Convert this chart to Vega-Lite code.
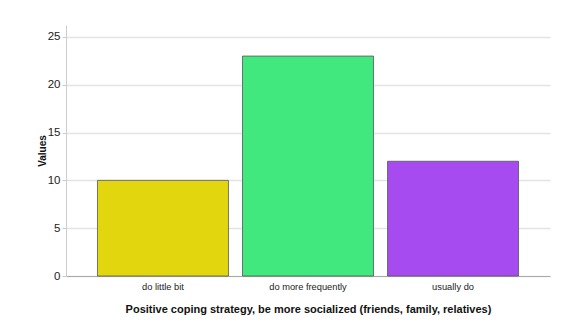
{
  "$schema": "https://vega.github.io/schema/vega-lite/v6.json",
  "autosize": "none",
  "width": 484,
  "height": 251,
  "padding": {"left": 66, "top": 25, "right": 20, "bottom": 59},
  "background": "white",
  "data": {"values": [
    {"category": "do little bit", "value": 10},
    {"category": "do more frequently", "value": 23},
    {"category": "usually do", "value": 12}
  ]},
  "mark": {"type": "bar", "stroke": "#555555", "strokeWidth": 0.8},
  "encoding": {
    "x": {
      "field": "category", "type": "nominal", "sort": null,
      "scale": {"paddingInner": 0.097, "paddingOuter": 0.217},
      "axis": {
        "title": "Positive coping strategy, be more socialized (friends, family, relatives)",
        "titleFont": "Liberation Sans", "titleFontSize": 11, "titleFontWeight": "bold", "titleColor": "#111111",
        "titlePadding": 12,
        "labelAngle": 0, "labelFont": "Liberation Sans", "labelFontSize": 9.3, "labelColor": "#222222",
        "labelPadding": 6,
        "ticks": false, "domainColor": "#aaaaaa", "grid": false
      }
    },
    "y": {
      "field": "value", "type": "quantitative",
      "scale": {"domain": [0, 26.25], "nice": false},
      "axis": {
        "title": "Values", "titleFont": "Liberation Sans", "titleFontSize": 10, "titleFontWeight": "bold", "titleColor": "#111111",
        "titlePadding": 0,
        "values": [0, 5, 10, 15, 20, 25],
        "labelFont": "Liberation Sans", "labelFontSize": 11.5, "labelColor": "#222222",
        "tickSize": 4, "tickColor": "#cccccc", "labelPadding": 2,
        "domainColor": "#cccccc", "gridColor": "#e3e3e3", "gridWidth": 1.5
      }
    },
    "color": {
      "field": "category", "type": "nominal", "legend": null,
      "scale": {"domain": ["do little bit", "do more frequently", "usually do"], "range": ["#e2d70f", "#41e87e", "#a64bef"]}
    }
  },
  "config": {"view": {"stroke": null}}
}
